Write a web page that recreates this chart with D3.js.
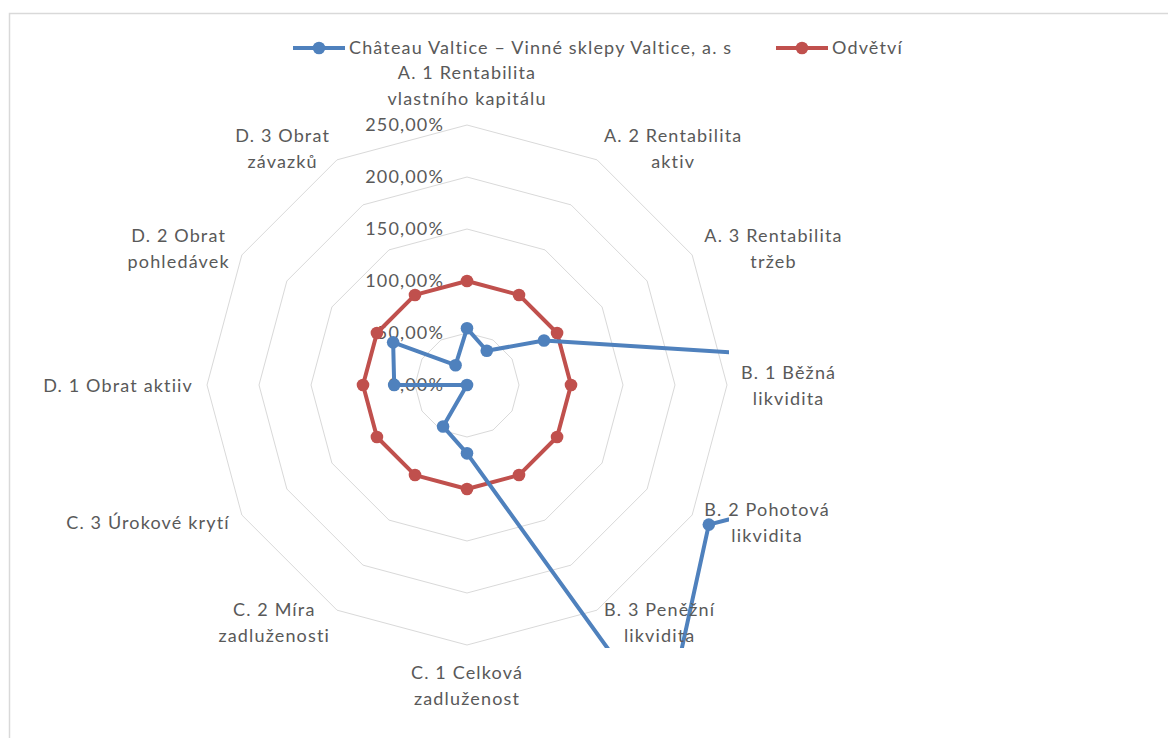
<!DOCTYPE html>
<html>
<head>
<meta charset="utf-8">
<script src="https://cdn.jsdelivr.net/npm/d3@7"></script>
<style>
  html, body { margin: 0; padding: 0; background: #fff; }
  svg { display: block; }
  text { font-family: Lato, "Open Sans", sans-serif; fill: #595959; font-size: 18px; letter-spacing: 1.15px; }
</style>
</head>
<body>
<svg id="chart" width="1168" height="738"></svg>
<script>
// Ukazatele finanční analýzy (názvy os, zalomené do řádků)
const categories = [
  "A. 1 Rentabilita\nvlastního kapitálu",
  "A. 2 Rentabilita\naktiv",
  "A. 3 Rentabilita\ntržeb",
  "B. 1 Běžná\nlikvidita",
  "B. 2 Pohotová\nlikvidita",
  "B. 3 Peněžní\nlikvidita",
  "C. 1 Celková\nzadluženost",
  "C. 2 Míra\nzadluženosti",
  "C. 3 Úrokové krytí",
  "D. 1 Obrat aktiiv",
  "D. 2 Obrat\npohledávek",
  "D. 3 Obrat\nzávazků"
];

const seriesNames = ["Château Valtice – Vinné sklepy Valtice, a. s", "Odvětví"];

// Hodnoty podniku relativně k odvětví
const valtice = [0.545, 0.38, 0.855, 7.5, 2.685, 3.8, 0.657, 0.46, 0, 0.70, 0.82, 0.22];
// Odvětví = 100 %
const odvetvi = [1, 1, 1, 1, 1, 1, 1, 1, 1, 1, 1, 1];

const tickValues = [0, 0.5, 1, 1.5, 2, 2.5];

const colors = ["#4F81BD", "#C0504D"];

const svg = d3.select("#chart");
const cx = 467, cy = 385;
const maxR = 260;

const czech = d3.formatLocale({ decimal: ",", thousands: "\u00a0", grouping: [3], currency: ["", " Kč"] });
const pct = czech.format(".2%");

const r = d3.scaleLinear().domain([0, 2.5]).range([0, maxR]);
const angle = d3.scalePoint().domain(d3.range(categories.length)).range([0, 2 * Math.PI * (categories.length - 1) / categories.length]);

// Rámeček grafu
svg.append("rect")
  .attr("x", 9.5).attr("y", 13.5)
  .attr("width", 1300).attr("height", 900)
  .attr("fill", "none").attr("stroke", "#D9D9D9").attr("stroke-width", 1.5);

const g = svg.append("g").attr("transform", `translate(${cx},${cy})`);

// Ořez oblasti grafu
svg.append("defs").append("clipPath").attr("id", "plotClip")
  .append("rect")
  .attr("x", -262).attr("y", -263).attr("width", 524).attr("height", 526);

// Mřížka (soustředné mnohoúhelníky)
const ring = d3.lineRadial().curve(d3.curveLinearClosed);
g.append("g").selectAll("path")
  .data(tickValues.filter(v => v > 0))
  .join("path")
  .attr("d", v => ring(categories.map((c, i) => [angle(i), r(v)])))
  .attr("fill", "none")
  .attr("stroke", "#D9D9D9")
  .attr("stroke-width", 1);

// Popisky osy hodnot
g.append("g").selectAll("text")
  .data(tickValues)
  .join("text")
  .attr("x", -23)
  .attr("y", v => -r(v))
  .attr("dy", "0.36em")
  .attr("text-anchor", "end")
  .text(v => pct(v));

// Datové řady
const seriesData = [valtice, odvetvi];
const plot = g.append("g").attr("clip-path", "url(#plotClip)");
const line = d3.lineRadial().curve(d3.curveLinearClosed);

// Odvětví kreslené pod řadou podniku
[1, 0].forEach(si => {
  const vals = seriesData[si];
  const sg = plot.append("g");
  sg.append("path")
    .attr("d", line(vals.map((v, i) => [angle(i), r(v)])))
    .attr("fill", "none")
    .attr("stroke", colors[si])
    .attr("stroke-width", 4)
    .attr("stroke-linejoin", "round");
  sg.selectAll("circle")
    .data(vals)
    .join("circle")
    .attr("cx", (v, i) => r(v) * Math.sin(angle(i)))
    .attr("cy", (v, i) => -r(v) * Math.cos(angle(i)))
    .attr("r", 6.3)
    .attr("fill", colors[si]);
});

// Názvy os
const labelR = 274;
const lineH = 26;
const lg = g.append("g");
categories.forEach((cat, i) => {
  const a = angle(i);
  const sx = Math.sin(a), sy = -Math.cos(a);
  const px = labelR * sx, py = labelR * sy;
  const lines = cat.split("\n");
  const t = lg.append("text")
    .attr("text-anchor", "middle");
  lines.forEach((ln, k) => t.append("tspan").attr("x", 0).attr("dy", k === 0 ? 0 : lineH).text(ln));
  const bb = t.node().getBBox();
  const w = bb.width;
  const h = lines.length * lineH;
  let bx, by;
  if (Math.abs(sx) < 0.01) {
    bx = px;
    by = sy < 0 ? py - h : py;
  } else {
    bx = sx > 0 ? px + w / 2 : px - w / 2;
    by = py - h / 2;
  }
  t.attr("transform", `translate(${bx},${by + lineH / 2})`).attr("dominant-baseline", "central");
  t.selectAll("tspan").attr("dominant-baseline", "central");
});

// Legenda
const legendItems = [
  { name: seriesNames[0], color: colors[0], x: 293 },
  { name: seriesNames[1], color: colors[1], x: 776 }
];
const leg = svg.append("g").attr("transform", "translate(0,48)");
legendItems.forEach(d => {
  leg.append("line")
    .attr("x1", d.x).attr("x2", d.x + 52)
    .attr("y1", 0).attr("y2", 0)
    .attr("stroke", d.color).attr("stroke-width", 4);
  leg.append("circle")
    .attr("cx", d.x + 26).attr("cy", 0).attr("r", 6.3)
    .attr("fill", d.color);
  leg.append("text")
    .attr("x", d.x + 56).attr("y", 0)
    .attr("dy", "0.36em")
    .text(d.name);
});
</script>
</body>
</html>
